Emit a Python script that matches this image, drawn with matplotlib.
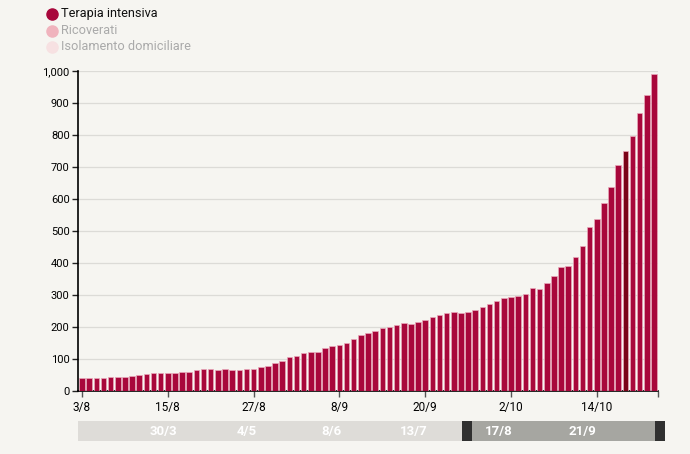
import matplotlib.pyplot as plt
from matplotlib.patches import Rectangle
from matplotlib.lines import Line2D

# terapia intensiva, 3/8 -> 22/10
aug = [41, 41, 42, 42, 43, 43, 45, 46, 49, 53, 55, 56, 55, 57, 58, 58,
       66, 69, 69, 65, 69, 66, 67, 69, 68, 74, 79, 86, 94]
sep = [107, 109, 120, 121, 121, 133, 142, 143, 150, 164, 174, 182, 187, 197, 201,
       207, 212, 208, 215, 222, 232, 239, 244, 246, 244, 247, 254, 264, 271, 280]
oct_ = [291, 294, 297, 303, 323, 319, 337, 358, 387, 390, 420, 452, 514, 539,
        586, 638, 705, 750, 797, 870, 926, 992]
values = aug + sep + oct_
highlight = 76  # 18/10

tick_pos = [0, 12, 24, 36, 48, 60, 72]
tick_labels = ['3/8', '15/8', '27/8', '8/9', '20/9', '2/10', '14/10']

legend_labels = ['Terapia intensiva', 'Ricoverati', 'Isolamento domiciliare']
legend_colors = ['#a8073b', '#f0b3bd', '#f7e1e2']
legend_text = ['#111111', '#aaaaaa', '#aaaaaa']

slider_labels = ['30/3', '4/5', '8/6', '13/7', '17/8', '21/9']
slider_x = [163, 247, 331, 414, 499, 582]

bg = '#f6f5f1'
plt.rcParams['font.family'] = ['Roboto', 'DejaVu Sans']

fig = plt.figure(figsize=(6.9, 4.54), dpi=100, facecolor=bg)
W, H = 690, 454
ax = fig.add_axes([78 / W, 63 / H, 580 / W, 320 / H])
ax.set_facecolor(bg)

x = list(range(len(values)))
colors = ['#a8073b'] * len(values)
colors[highlight] = '#7a0418'
ax.bar(x, values, width=0.78, color=colors, edgecolor='#e9a9bb', linewidth=0.5, zorder=3)

ax.set_xlim(-0.56, 80.56)
ax.set_ylim(0, 1000)
ax.set_yticks(range(0, 1001, 100))
ax.set_yticklabels([f'{v:,}' for v in range(0, 1001, 100)])
ax.grid(axis='y', color='#dcdbd7', linewidth=0.9, zorder=0)
ax.set_xticks(tick_pos)
ax.set_xticklabels(tick_labels)
ax.set_xticks([80.56], minor=True)
ax.tick_params(axis='x', which='both', length=4, width=1, color='#555555', labelsize=8.5, pad=3)
ax.tick_params(axis='y', length=4, width=1, color='#222222', labelsize=8, pad=2)
for s in ['top', 'right']:
    ax.spines[s].set_visible(False)
ax.spines['left'].set_linewidth(1.2)
ax.spines['bottom'].set_linewidth(1.2)

# legend
for i, (lab, c, tc) in enumerate(zip(legend_labels, legend_colors, legend_text)):
    y = 1 - (14 + 16.5 * i) / H
    fig.add_artist(Line2D([52 / W], [y], marker='o', markersize=8, color=c,
                          linestyle='none', transform=fig.transFigure))
    fig.text(61 / W, y, lab, color=tc, fontsize=9.2, va='center', ha='left')

# time slider
sax = fig.add_axes([0, 0, 1, 1], facecolor='none')
sax.set_xlim(0, W)
sax.set_ylim(H, 0)
sax.axis('off')
sax.add_patch(Rectangle((78, 421), 384, 20, color='#dedcd8', lw=0))
sax.add_patch(Rectangle((472, 421), 183, 20, color='#a6a6a1', lw=0))
sax.add_patch(Rectangle((462, 421), 10, 20, color='#303030', lw=0))
sax.add_patch(Rectangle((655, 421), 10, 20, color='#303030', lw=0))
for lab, sx in zip(slider_labels, slider_x):
    sax.text(sx, 431.5, lab, color='white', fontsize=9.5, fontweight='bold',
             ha='center', va='center')

fig.savefig('out.png', dpi=100, facecolor=bg)
